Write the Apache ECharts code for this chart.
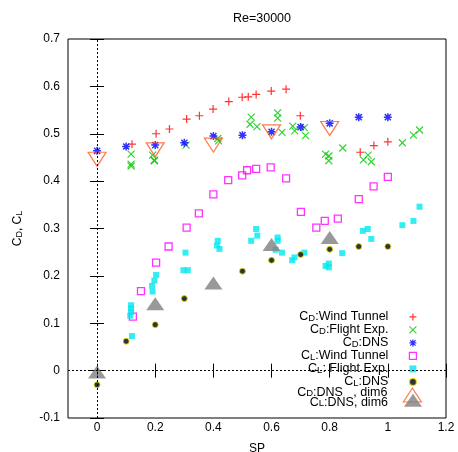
<!DOCTYPE html>
<html>
<head>
<meta charset="utf-8">
<script src="https://cdn.jsdelivr.net/npm/echarts@6/dist/echarts.min.js"></script>
<style>html,body{margin:0;padding:0;background:#fff}#c{width:458px;height:452px}</style>
</head>
<body>
<div id="c"></div>
<script>
var xTicks = [0, 0.2, 0.4, 0.6, 0.8, 1, 1.2];
var cdWind = [[0.12,0.478],[0.203,0.500],[0.249,0.510],[0.308,0.531],[0.352,0.538],[0.399,0.552],[0.453,0.568],[0.499,0.577],[0.52,0.578],[0.547,0.583],[0.599,0.590],[0.650,0.594],[0.699,0.538],[0.905,0.461],[0.952,0.475],[1.0,0.483]];
var cdFlight = [[0.117,0.457],[0.117,0.436],[0.117,0.432],[0.191,0.455],[0.197,0.444],[0.197,0.443],[0.306,0.476],[0.415,0.490],[0.418,0.485],[0.53,0.535],[0.526,0.520],[0.55,0.515],[0.621,0.544],[0.621,0.533],[0.636,0.503],[0.673,0.516],[0.680,0.506],[0.713,0.513],[0.717,0.496],[0.786,0.457],[0.797,0.453],[0.797,0.443],[0.845,0.470],[0.916,0.445],[0.932,0.455],[0.943,0.441],[1.05,0.481],[1.088,0.497],[1.109,0.508]];
var cdDns = [[0,0.464],[0.1,0.473],[0.2,0.476],[0.3,0.481],[0.4,0.495],[0.5,0.497],[0.6,0.504],[0.7,0.514],[0.8,0.522],[0.9,0.535],[1.0,0.535]];
var clWind = [[0.123,0.114],[0.151,0.168],[0.203,0.228],[0.246,0.262],[0.308,0.302],[0.35,0.332],[0.4,0.372],[0.451,0.402],[0.499,0.412],[0.516,0.423],[0.547,0.426],[0.597,0.429],[0.650,0.406],[0.701,0.335],[0.754,0.302],[0.783,0.316],[0.828,0.321],[0.9,0.362],[0.951,0.389],[1.0,0.409]];
var clFlight = [[0.117,0.138],[0.117,0.131],[0.117,0.124],[0.114,0.116],[0.12,0.073],[0.189,0.179],[0.191,0.167],[0.197,0.190],[0.203,0.202],[0.304,0.249],[0.297,0.212],[0.312,0.212],[0.415,0.274],[0.412,0.264],[0.421,0.257],[0.53,0.274],[0.547,0.299],[0.551,0.285],[0.621,0.281],[0.621,0.274],[0.614,0.255],[0.636,0.249],[0.671,0.233],[0.679,0.239],[0.713,0.249],[0.786,0.221],[0.797,0.226],[0.797,0.218],[0.843,0.248],[0.914,0.295],[0.931,0.299],[0.943,0.278],[1.05,0.307],[1.088,0.316],[1.109,0.346]];
var clDns = [[0,-0.030],[0.1,0.062],[0.2,0.097],[0.3,0.152],[0.5,0.210],[0.6,0.233],[0.7,0.245],[0.8,0.256],[0.9,0.262],[1.0,0.262]];
var cdDim6 = [[0,0.446],[0.2,0.466],[0.4,0.476],[0.6,0.504],[0.8,0.511]];
var clDim6 = [[0,-0.003],[0.2,0.141],[0.4,0.185],[0.6,0.266],[0.8,0.281]];

var names = ['CD:Wind Tunnel','CD:Flight Exp.','CD:DNS','CL:Wind Tunnel','CL: Flight Exp.','CL:DNS','CD:DNS   , dim6','CL:DNS, dim6'];

var FONT = 'Liberation Sans, Arial, Helvetica, sans-serif';
var rich = {
  a: {fontSize: 12.5, fontFamily: FONT, color: '#000', lineHeight: 12.6, align: 'right'},
  s: {fontSize: 9.5, fontFamily: FONT, color: '#000', lineHeight: 3, verticalAlign: 'bottom', align: 'right'}
};
function richName(n) {
  return '{a|C}{s|' + n.charAt(1) + '}{a|' + n.slice(2) + '}';
}
var plus = 'path://M5,0L5,10M0,5L10,5';
var cross = 'path://M0,0L10,10M10,0L0,10';
var star = 'path://M5,0L5,10M0,5L10,5M1.2,1.2L8.8,8.8M8.8,1.2L1.2,8.8';

function legendOf(list, right, top, w, h, pad) {
  return {
    orient: 'vertical', right: right, top: top, itemGap: 0, itemWidth: w, itemHeight: h, padding: 0,
    align: 'right', symbolKeepAspect: false, selectedMode: false,
    data: list, itemStyle: {borderWidth: 1.2}, formatter: richName,
    textStyle: {width: 110, align: 'right', rich: rich, fontSize: 12.5, fontFamily: FONT, padding: pad}
  };
}

var chart = echarts.init(document.getElementById('c'));
chart.setOption({
  animation: false,
  backgroundColor: '#fff',
  title: {text: 'Re=30000', left: 257, top: 7, textAlign: 'center',
    textStyle: {fontSize: 12.5, fontWeight: 'normal', fontFamily: FONT, color: '#000'}},
  grid: {left: 68, top: 39, width: 378, height: 379, outerBoundsMode: 'none', show: true, borderColor: '#000', borderWidth: 1, backgroundColor: 'transparent'},
  xAxis: [{
    type: 'value', min: -0.1, max: 1.2, position: 'bottom',
    name: 'SP', nameLocation: 'middle', nameGap: 25,
    nameTextStyle: {fontSize: 12, fontFamily: FONT, color: '#000'},
    axisLine: {show: false}, splitLine: {show: false},
    axisTick: {inside: true, length: 7, customValues: xTicks, lineStyle: {color: '#000'}},
    axisLabel: {customValues: xTicks, margin: 4, fontSize: 12, fontFamily: FONT, color: '#000'}
  }, {
    type: 'value', min: -0.1, max: 1.2, position: 'top',
    axisLine: {show: false}, splitLine: {show: false},
    axisTick: {inside: true, length: 7, customValues: xTicks, lineStyle: {color: '#000'}},
    axisLabel: {show: false}
  }],
  yAxis: [{
    type: 'value', min: -0.1, max: 0.7, interval: 0.1, position: 'left',
    name: '{a|C}{s|D}{a|, C}{s|L}', nameLocation: 'middle', nameGap: 44, nameRotate: 90,
    nameTextStyle: {rich: {a: {fontSize: 12, fontFamily: FONT, color: '#000', lineHeight: 12}, s: {fontSize: 9, fontFamily: FONT, color: '#000', lineHeight: 3, verticalAlign: 'bottom'}}},
    axisLine: {show: false}, splitLine: {show: false},
    axisTick: {inside: true, length: 7, lineStyle: {color: '#000'}},
    axisLabel: {margin: 8, fontSize: 12, fontFamily: FONT, color: '#000',
      formatter: function (v) { return String(Math.round(v * 10) / 10); }}
  }, {
    type: 'value', min: -0.1, max: 0.7, interval: 0.1, position: 'right',
    axisLine: {show: false}, splitLine: {show: false},
    axisTick: {inside: true, length: 7, lineStyle: {color: '#000'}},
    axisLabel: {show: false}
  }],
  legend: [
    legendOf(names.slice(0, 6), 41, 310.4, 7, 7, [0, 16, 0, 0]),
    legendOf([names[6]], 36, 386, 18, 14, [0, 11, 5, 0]),
    legendOf([names[7]], 36, 393.7, 18, 13, [4, 11, 0, 0])
  ],
  series: [
    {name: names[0], type: 'scatter', data: cdWind, symbol: plus, symbolSize: 8,
      itemStyle: {color: '#ff0000', borderColor: '#ff0000', borderWidth: 1.2},
      markLine: {silent: true, symbol: 'none', label: {show: false},
        lineStyle: {color: '#000', type: [2, 2], width: 1},
        data: [{yAxis: 0}, {xAxis: 0}]}},
    {name: names[1], type: 'scatter', data: cdFlight, symbol: cross, symbolSize: 7,
      itemStyle: {color: '#00c800', borderColor: '#00c800', borderWidth: 1.2}},
    {name: names[2], type: 'scatter', data: cdDns, symbol: star, symbolSize: 8,
      itemStyle: {color: '#0000ff', borderColor: '#0000ff', borderWidth: 1.5}},
    {name: names[3], type: 'scatter', data: clWind, symbol: 'rect', symbolSize: 7,
      itemStyle: {color: 'transparent', borderColor: '#ff00ff', borderWidth: 1.3}},
    {name: names[4], type: 'scatter', data: clFlight, symbol: 'rect', symbolSize: 6,
      itemStyle: {color: '#00e8f0'}},
    {name: names[5], type: 'scatter', data: clDns, symbol: 'circle', symbolSize: 6,
      itemStyle: {color: '#000', borderColor: '#e8e800', borderWidth: 1}},
    {name: names[6], type: 'scatter', data: cdDim6, symbol: 'triangle', symbolRotate: 180, symbolSize: [18, 14],
      itemStyle: {color: 'transparent', borderColor: '#ff5a1e', borderWidth: 1.2}},
    {name: names[7], type: 'scatter', data: clDim6, symbol: 'triangle', symbolSize: [18, 13],
      itemStyle: {color: '#808080'}}
  ]
});
</script>
</body>
</html>
